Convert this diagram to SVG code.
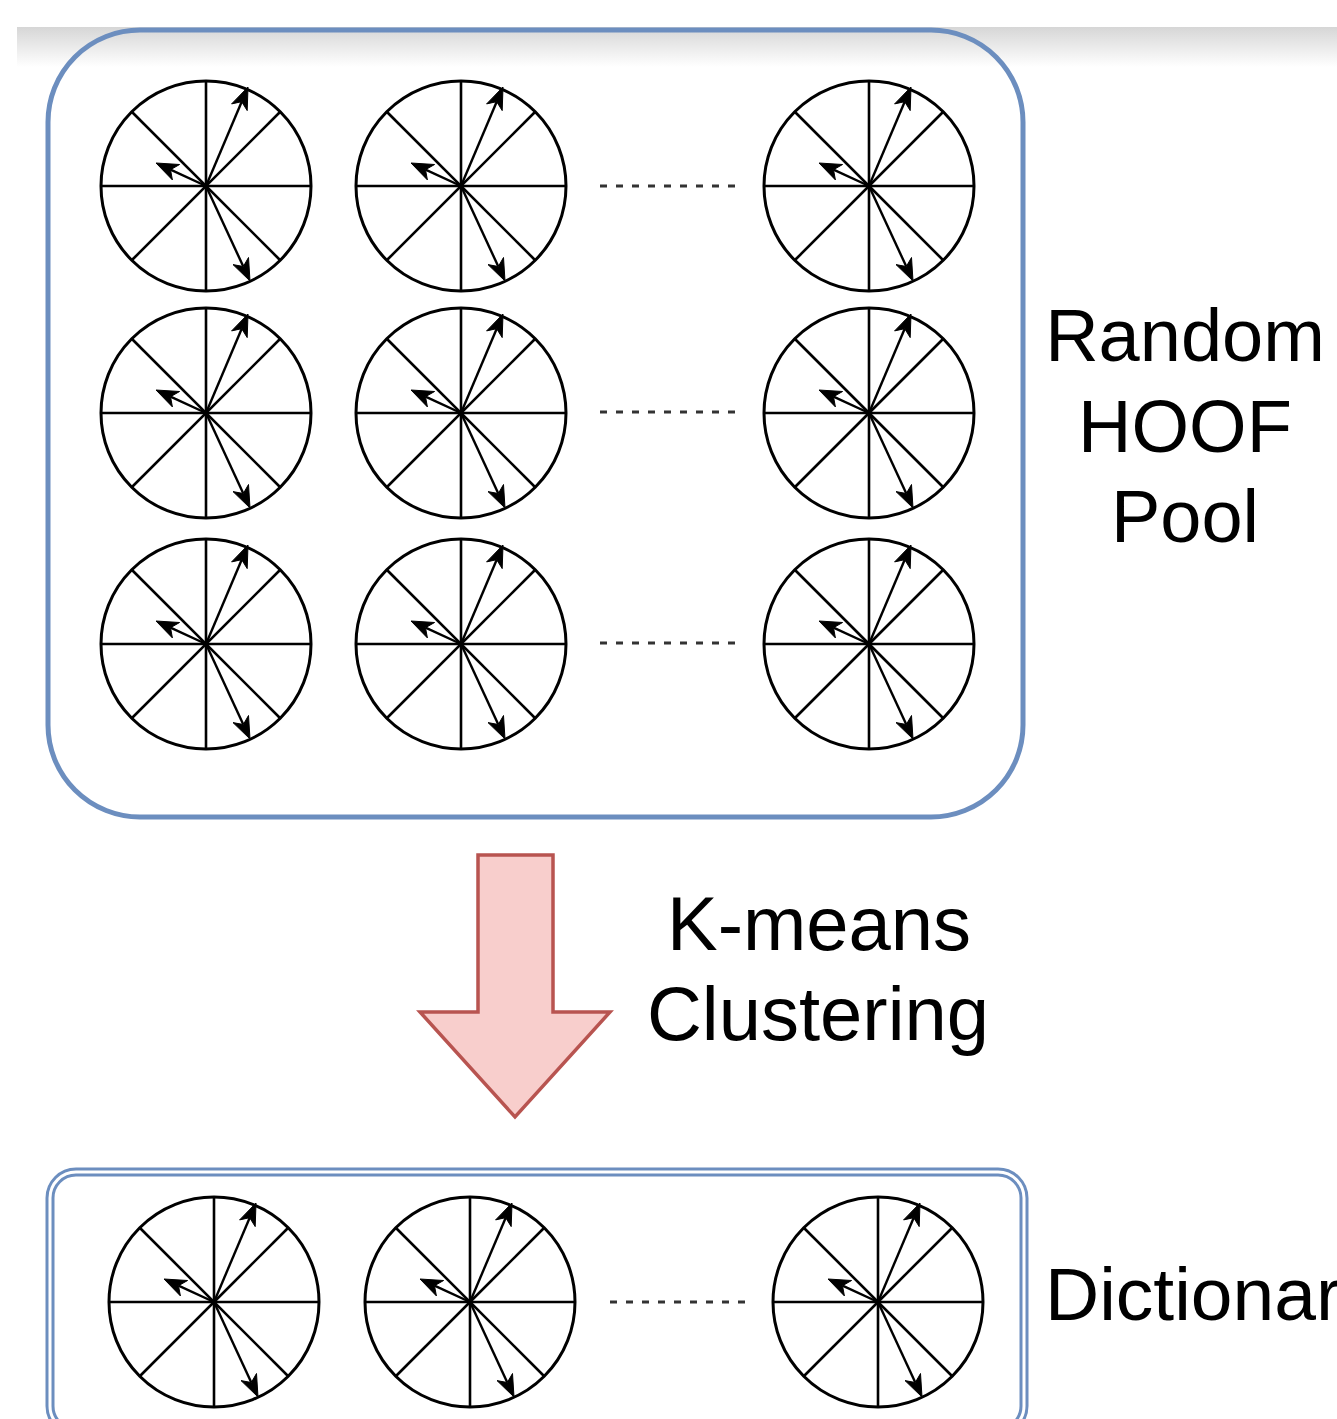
<svg xmlns="http://www.w3.org/2000/svg" width="1337" height="1419" viewBox="0 0 1337 1419">
<style>
.lbl{font-family:"Liberation Sans",Arial,sans-serif;fill:#000;text-anchor:middle}
.rim{fill:#fff;stroke:#000;stroke-width:3}
.spoke{stroke:#000;stroke-width:2.6;fill:none}
.vec{stroke:#000;stroke-width:2.4;fill:none}
.tip{fill:#000;stroke:#000;stroke-width:1;stroke-linejoin:miter}
.dots{stroke:#333;stroke-width:3;stroke-dasharray:7 9;fill:none}
</style>
<defs>
<linearGradient id="band" x1="0" y1="0" x2="0" y2="1">
<stop offset="0" stop-color="#d6d6d6"/>
<stop offset="1" stop-color="#ffffff"/>
</linearGradient>
<g id="hoof">
<circle class="rim" cx="0" cy="0" r="105"/>
<line class="spoke" x1="0" y1="-105" x2="0" y2="105"/>
<line class="spoke" x1="-105" y1="0" x2="105" y2="0"/>
<line class="spoke" x1="-74" y1="-74" x2="74" y2="74"/>
<line class="spoke" x1="74" y1="-74" x2="-74" y2="74"/>
<line class="vec" x1="0" y1="0" x2="35.7" y2="-84.3"/>
<polygon class="tip" points="42,-99 41.2,-75.4 35.7,-84.3 25.6,-82.1"/>
<line class="vec" x1="0" y1="0" x2="-35.5" y2="-16.3"/>
<polygon class="tip" points="-50,-23 -26.4,-21.5 -35.5,-16.3 -33.6,-6.1"/>
<line class="vec" x1="0" y1="0" x2="37.3" y2="80.5"/>
<polygon class="tip" points="44,95 27,78.6 37.3,80.5 42.5,71.5"/>
</g>
</defs>
<rect x="0" y="0" width="1337" height="1419" fill="#fff"/>
<rect x="17" y="27" width="1320" height="40" fill="url(#band)"/>

<g id="pool">
<rect x="48" y="30" width="975" height="787" rx="92" ry="92" fill="none" stroke="#6c8ebf" stroke-width="5"/>
</g>

<g id="pool-r1c1"><use href="#hoof" x="206" y="186"/></g>
<g id="pool-r1c2"><use href="#hoof" x="461" y="186"/></g>
<g id="pool-r1c3"><use href="#hoof" x="869" y="186"/></g>
<g id="pool-r2c1"><use href="#hoof" x="206" y="413"/></g>
<g id="pool-r2c2"><use href="#hoof" x="461" y="413"/></g>
<g id="pool-r2c3"><use href="#hoof" x="869" y="413"/></g>
<g id="pool-r3c1"><use href="#hoof" x="206" y="644"/></g>
<g id="pool-r3c2"><use href="#hoof" x="461" y="644"/></g>
<g id="pool-r3c3"><use href="#hoof" x="869" y="644"/></g>

<g id="pool-label">
<text class="lbl" x="1185" y="361" font-size="74">Random</text>
<text class="lbl" x="1185" y="452" font-size="74">HOOF</text>
<text class="lbl" x="1185" y="542" font-size="74">Pool</text>
</g>

<g id="connectors">
<path d="M478,855 L553,855 L553,1012 L610,1012 L515,1117 L420,1012 L478,1012 Z" fill="#f8cecc" stroke="#b85450" stroke-width="3.5" stroke-linejoin="miter"/>
</g>

<g id="kmeans-label">
<text class="lbl" x="819" y="950" font-size="76">K-means</text>
<text class="lbl" x="818" y="1040" font-size="76">Clustering</text>
</g>

<g id="dictionary">
<rect x="50" y="1172" width="974" height="260" rx="26" ry="26" fill="#fff" stroke="#6c8ebf" stroke-width="9"/>
<rect x="50" y="1172" width="974" height="260" rx="26" ry="26" fill="none" stroke="#fff" stroke-width="3"/>
</g>
<g id="dict-c1"><use href="#hoof" x="214" y="1302"/></g>
<g id="dict-c2"><use href="#hoof" x="470" y="1302"/></g>
<g id="dict-c3"><use href="#hoof" x="878" y="1302"/></g>

<g id="ellipses">
<line class="dots" x1="600" y1="186" x2="736" y2="186"/>
<line class="dots" x1="600" y1="412" x2="736" y2="412"/>
<line class="dots" x1="600" y1="643" x2="736" y2="643"/>
<line class="dots" x1="610" y1="1302" x2="746" y2="1302"/>
</g>

<g id="dict-label">
<text class="lbl" x="1045" y="1320" font-size="75" style="text-anchor:start">Dictionary</text>
</g>
</svg>
